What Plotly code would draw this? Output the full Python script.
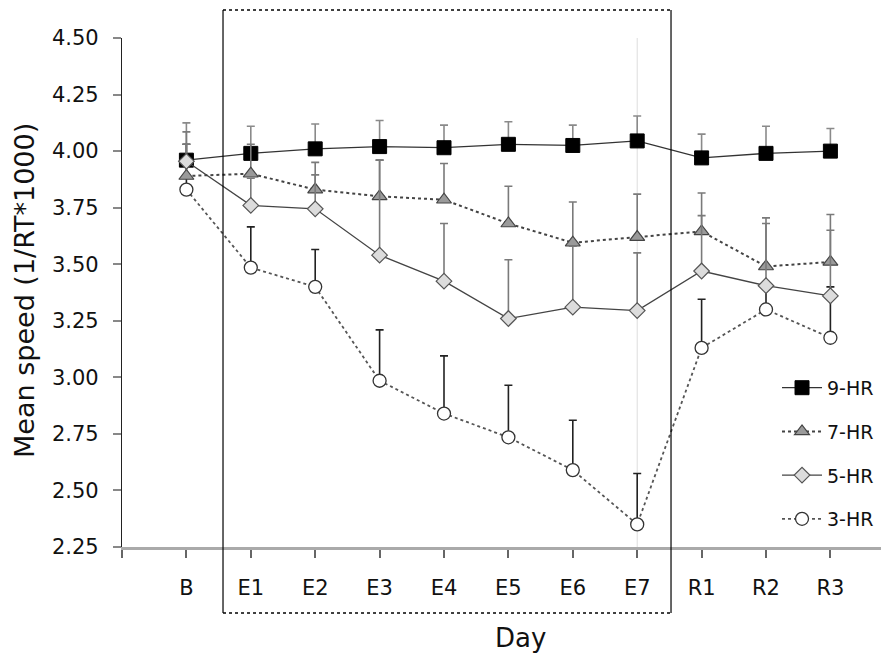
import plotly.graph_objects as go

days = ["B", "E1", "E2", "E3", "E4", "E5", "E6", "E7", "R1", "R2", "R3"]
day_pos = list(range(len(days)))
tick_pos = [-1] + day_pos
tick_text = [""] + days

hr9 = [3.96, 3.99, 4.01, 4.02, 4.015, 4.03, 4.025, 4.045, 3.97, 3.99, 4.00]
hr9_err = [0.165, 0.12, 0.11, 0.115, 0.10, 0.10, 0.09, 0.11, 0.105, 0.12, 0.10]

hr7 = [3.89, 3.90, 3.83, 3.80, 3.785, 3.68, 3.595, 3.62, 3.645, 3.49, 3.51]
hr7_err = [0.14, 0.13, 0.12, 0.16, 0.16, 0.165, 0.18, 0.19, 0.17, 0.215, 0.21]

hr5 = [3.955, 3.76, 3.745, 3.54, 3.425, 3.26, 3.31, 3.295, 3.47, 3.405, 3.36]
hr5_err = [0.13, 0.12, 0.15, 0.42, 0.255, 0.26, 0.27, 0.255, 0.245, 0.275, 0.29]

hr3 = [3.83, 3.485, 3.40, 2.985, 2.84, 2.735, 2.59, 2.35, 3.13, 3.30, 3.175]
hr3_err = [0.20, 0.18, 0.165, 0.225, 0.255, 0.23, 0.22, 0.225, 0.215, 0.11, 0.225]

yticks = [2.25, 2.50, 2.75, 3.00, 3.25, 3.50, 3.75, 4.00, 4.25, 4.50]

FONT = "DejaVu Sans, Liberation Sans, sans-serif"

def err(vals, color):
    return dict(type="data", symmetric=False, array=vals, arrayminus=[0] * len(vals),
                color=color, thickness=1.6, width=4)

fig = go.Figure()

fig.add_trace(go.Scatter(
    x=day_pos, y=hr9, name="9-HR", mode="lines+markers", legendrank=1, legendgroup="a",
    line=dict(color="#333333", width=1.3),
    marker=dict(symbol="square", size=14, color="black", line=dict(color="black", width=1)),
    error_y=err(hr9_err, "#8a8a8a"), cliponaxis=False))

fig.add_trace(go.Scatter(
    x=day_pos, y=hr3, name="3-HR", mode="lines+markers", legendrank=4, legendgroup="d",
    line=dict(color="#555555", width=1.8, dash="dot"),
    marker=dict(symbol="circle", size=13, color="white", line=dict(color="#333333", width=1.3)),
    error_y=err(hr3_err, "#222222"), cliponaxis=False))

fig.add_trace(go.Scatter(
    x=day_pos, y=hr7, name="7-HR", mode="lines+markers", legendrank=2, legendgroup="b",
    line=dict(color="#444444", width=2, dash="dot"),
    marker=dict(symbol="triangle-up", size=13, color="#9a9a9a", line=dict(color="#444444", width=1.2)),
    error_y=err(hr7_err, "#7a7a7a"), cliponaxis=False))

fig.add_trace(go.Scatter(
    x=day_pos, y=hr5, name="5-HR", mode="lines+markers", legendrank=3, legendgroup="c",
    line=dict(color="#444444", width=1.3),
    marker=dict(symbol="diamond", size=12, color="#dcdcdc", line=dict(color="#555555", width=1.2)),
    error_y=err(hr5_err, "#7a7a7a"), cliponaxis=False))

shapes = [
    # faint vertical line at E7
    dict(type="line", xref="x", yref="paper", x0=7, x1=7, y0=0, y1=1,
         line=dict(color="#dddddd", width=1), layer="below"),
    # exposure-period box
    dict(type="line", xref="paper", yref="paper", x0=0.1317, x1=0.1317, y0=-0.1297, y1=1.055,
         line=dict(color="black", width=1.2)),
    dict(type="line", xref="paper", yref="paper", x0=0.7158, x1=0.7158, y0=-0.1297, y1=1.055,
         line=dict(color="black", width=1.2)),
    dict(type="line", xref="paper", yref="paper", x0=0.1317, x1=0.7158, y0=1.055, y1=1.055,
         line=dict(color="black", width=1.5, dash="dot")),
    dict(type="line", xref="paper", yref="paper", x0=0.1317, x1=0.7158, y0=-0.1297, y1=-0.1297,
         line=dict(color="black", width=1.5, dash="dot")),
]

fig.update_layout(
    width=881, height=647,
    margin=dict(l=114, r=0, t=30, b=108),
    paper_bgcolor="white", plot_bgcolor="white",
    font=dict(family=FONT, color="#111111", size=20),
    showlegend=True,
    legend=dict(x=0.854, y=0.35, xanchor="left", yanchor="top",
                font=dict(size=19, family=FONT), tracegroupgap=16,
                traceorder="grouped",
                bgcolor="rgba(0,0,0,0)", itemwidth=40),
    shapes=shapes,
    annotations=[
        dict(text="Day", xref="paper", yref="paper", x=0.519, y=-0.179,
             showarrow=False, font=dict(size=26, family=FONT), yanchor="middle"),
        dict(text="Mean speed (1/RT*1000)", xref="paper", yref="paper", x=-0.1265, y=0.505,
             showarrow=False, textangle=-90, font=dict(size=27, family=FONT),
             xanchor="center", yanchor="middle"),
    ],
)

fig.update_xaxes(
    range=[-1, 10.91], tickvals=tick_pos, ticktext=tick_text,
    showline=True, linecolor="#aaaaaa", linewidth=3,
    ticks="outside", ticklen=8, tickcolor="#666666", tickwidth=1.5,
    showgrid=False, zeroline=False, ticklabelstandoff=12,
    tickfont=dict(size=21, family=FONT),
)
fig.update_yaxes(
    range=[2.25, 4.5], tickvals=yticks, tickformat=".2f",
    showline=True, linecolor="#222222", linewidth=1.3,
    ticks="outside", ticklen=8, tickcolor="#888888", tickwidth=1.5,
    showgrid=False, zeroline=False, ticklabelstandoff=10,
    tickfont=dict(size=21, family=FONT),
)

fig.write_html("out.html")
